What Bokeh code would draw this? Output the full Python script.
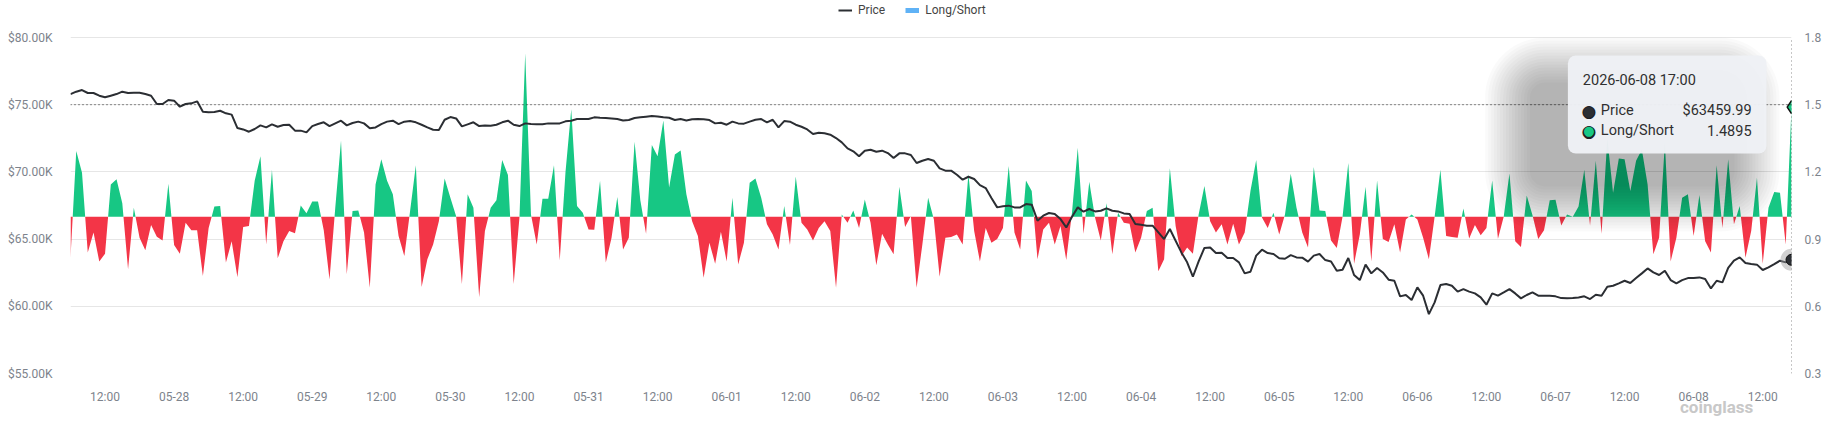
import pandas as pd
from bokeh.plotting import figure
from bokeh.models import (Range1d, LinearAxis, DatetimeAxis, FixedTicker,
                          CustomJSTickFormatter, Span, BoxAnnotation, Label, Legend,
                          LegendItem)
from bokeh.embed import file_html
from bokeh.resources import INLINE

# ---------------- data (hourly, 2026-05-27 06:00 .. 2026-06-08 17:00) ----------------
START = "2026-05-27 06:00"

long_short = [
    0.817, 1.293, 1.196, 0.84, 0.93, 0.80, 0.835, 1.144, 1.167, 1.06,
    0.765, 1.04, 0.906, 0.85, 0.963, 0.91, 0.894, 1.147, 0.874, 0.835,
    0.973, 0.94, 0.94, 0.735, 0.95, 1.045, 1.048, 0.795, 0.89, 0.73,
    0.954, 0.958, 1.16, 1.27, 0.876, 1.21, 0.814, 0.89, 0.936, 0.926,
    1.05, 1.015, 1.068, 1.068, 0.94, 0.72, 1.04, 1.34, 0.743, 1.025,
    1.028, 0.93, 0.683, 1.144, 1.256, 1.16, 1.10, 0.914, 0.824, 1.025,
    1.23, 0.686, 0.81, 0.876, 0.98, 1.17, 1.085, 1.002, 0.70, 1.10,
    1.04, 0.64, 0.936, 1.04, 1.073, 1.253, 1.186, 0.70, 0.996, 1.73,
    1.01, 0.876, 1.08, 1.08, 1.23, 0.805, 1.20, 1.48, 1.048, 1.018,
    0.943, 0.942, 1.16, 0.795, 0.906, 1.088, 0.854, 0.906, 1.335, 1.073,
    0.924, 1.32, 1.27, 1.43, 1.13, 1.278, 1.296, 1.10, 0.98, 0.914,
    0.728, 0.884, 0.79, 0.933, 0.80, 1.085, 0.787, 0.884, 1.152, 1.17,
    1.085, 0.966, 0.92, 0.854, 1.048, 0.874, 1.18, 0.973, 0.943, 0.894,
    0.95, 0.98, 0.936, 0.683, 1.01, 0.973, 1.028, 0.95, 1.077, 0.973,
    0.783, 0.924, 0.876, 0.832, 1.134, 0.954, 1.003, 0.683, 0.876, 1.085,
    0.988, 0.732, 0.906, 0.909, 0.92, 0.876, 1.19, 0.936, 0.80, 0.95,
    0.884, 0.90, 0.95, 1.226, 0.93, 0.854, 1.162, 1.115, 0.81, 0.943,
    0.973, 0.876, 0.958, 0.807, 1.02, 1.308, 0.924, 1.156, 0.996, 0.894,
    1.06, 0.832, 1.018, 0.973, 0.969, 0.84, 0.906, 1.025, 1.04, 0.757,
    0.81, 1.216, 0.958, 0.824, 0.862, 0.835, 1.01, 1.137, 0.98, 0.93,
    0.966, 0.876, 0.969, 0.876, 0.93, 1.115, 1.253, 0.996, 0.95, 1.018,
    0.92, 1.01, 1.192, 1.04, 0.93, 0.862, 1.222, 1.028, 1.025, 0.894,
    0.86, 1.0, 1.24, 0.79, 0.92, 1.134, 0.80, 1.162, 0.90, 0.887,
    0.966, 0.84, 0.988, 1.01, 0.988, 0.906, 0.81, 1.0, 1.21, 0.914,
    0.909, 0.906, 1.037, 0.903, 0.963, 0.917, 0.95, 1.162, 0.902, 1.0,
    1.193, 0.89, 0.865, 1.095, 1.007, 0.90, 0.94, 1.073, 1.076, 0.961,
    1.01, 1.0, 1.045, 1.21, 0.961, 1.25, 0.924, 1.35, 1.107, 1.26,
    1.256, 1.115, 1.25, 1.30, 1.144, 0.832, 0.906, 1.33, 0.80, 0.906,
    1.085, 1.10, 0.914, 1.097, 0.89, 0.84, 1.23, 0.95, 1.256, 0.966,
    1.048, 0.817, 0.936, 1.174, 0.79, 1.04, 1.11, 1.107, 0.876, 1.4895,
]

price_k = [
    75.79, 75.97, 76.09, 75.87, 75.87, 75.67, 75.55, 75.67, 75.79, 75.97,
    75.87, 75.89, 75.89, 75.79, 75.67, 75.05, 75.05, 75.35, 75.30, 74.85,
    75.05, 75.10, 75.25, 74.48, 74.43, 74.45, 74.55, 74.36, 74.26, 73.26,
    73.16, 72.99, 73.19, 73.46, 73.31, 73.54, 73.36, 73.49, 73.51, 73.07,
    73.07, 72.94, 73.41, 73.56, 73.69, 73.41, 73.61, 73.81, 73.46, 73.64,
    73.74, 73.61, 73.24, 73.31, 73.56, 73.74, 73.81, 73.56, 73.74, 73.78,
    73.69, 73.51, 73.31, 73.14, 73.12, 73.88, 74.08, 73.98, 73.39, 73.54,
    73.69, 73.41, 73.46, 73.44, 73.51, 73.69, 73.81, 73.51, 73.41, 73.61,
    73.56, 73.54, 73.54, 73.61, 73.61, 73.61, 73.76, 73.81, 73.93, 73.93,
    73.93, 74.06, 74.03, 74.01, 73.98, 73.93, 73.83, 73.86, 74.01, 74.06,
    74.11, 74.16, 74.13, 74.06, 74.03, 73.86, 73.93, 73.83, 73.91, 73.93,
    73.91, 73.86, 73.61, 73.66, 73.51, 73.74, 73.61, 73.59, 73.74, 73.88,
    73.93, 73.69, 73.88, 73.31, 73.78, 73.74, 73.51, 73.36, 73.16, 72.82,
    72.92, 72.87, 72.77, 72.52, 72.20, 71.75, 71.53, 71.16, 71.58, 71.65,
    71.50, 71.58, 71.40, 71.03, 71.38, 71.38, 71.26, 70.66, 70.83, 70.96,
    70.83, 70.26, 70.09, 70.09, 69.79, 69.42, 69.64, 69.47, 69.02, 68.80,
    68.06, 67.36, 67.44, 67.49, 67.36, 67.36, 67.61, 67.56, 66.37, 66.74,
    66.94, 66.87, 66.49, 65.87, 66.67, 67.36, 67.04, 67.24, 67.06, 67.11,
    67.29, 67.11, 67.06, 66.91, 66.87, 66.12, 66.07, 66.00, 66.00, 65.50,
    65.00, 65.75, 64.88, 64.01, 63.27, 62.20, 63.34, 64.34, 64.38, 63.96,
    63.99, 63.59, 63.59, 63.27, 62.45, 62.57, 63.77, 64.21, 63.96, 63.89,
    63.57, 63.54, 63.81, 63.64, 63.62, 63.32, 63.77, 63.89, 63.44, 63.34,
    62.65, 62.72, 63.59, 62.33, 61.95, 63.10, 62.45, 62.85, 62.52, 61.98,
    61.90, 60.74, 60.84, 60.47, 61.41, 60.79, 59.42, 60.29, 61.58, 61.66,
    61.53, 61.09, 61.28, 61.09, 60.96, 60.66, 60.12, 60.96, 60.79, 61.03,
    61.28, 60.96, 60.59, 60.84, 61.03, 60.79, 60.79, 60.79, 60.74, 60.61,
    60.59, 60.61, 60.66, 60.74, 60.54, 60.86, 60.79, 61.46, 61.53, 61.71,
    61.90, 61.73, 62.10, 62.45, 62.82, 62.52, 62.33, 62.65, 61.95, 61.71,
    61.95, 62.10, 62.10, 62.15, 62.03, 61.33, 61.90, 61.78, 62.85, 63.39,
    63.64, 63.22, 63.14, 63.10, 62.70, 62.90, 63.14, 63.39, 63.27, 63.45999,
]

price_ticks = [55000, 60000, 65000, 70000, 75000, 80000]
ratio_ticks = [0.3, 0.6, 0.9, 1.2, 1.5, 1.8]
BASE = 1.0

price = [v * 1000 for v in price_k]
times = pd.date_range(START, periods=len(price), freq="h")
x_ms = [float(v) for v in (times.asi8 // 10**6)]
x_ticks = [x_ms[i] for i, t in enumerate(times) if t.hour in (0, 12)]

GREEN = "#17c784"
RED = "#f33547"
DARK = "#2b2e33"
TICK_COL = "#7d838c"

# ---------------- layout (pixels) ----------------
W, H = 1824, 419
FL, FW = 70, 1724          # frame left / width
GT, GH = 37, 336           # top of the value grid (80K / 1.8) and grid height
FB = GT + GH               # frame bottom (55K / 0.3)
# the frame reaches the top of the canvas so the legend can sit inside it
p_span = price_ticks[-1] - price_ticks[0]
r_span = ratio_ticks[-1] - ratio_ticks[0]
p_top = price_ticks[-1] + GT / GH * p_span
r_top = ratio_ticks[-1] + GT / GH * r_span

p = figure(width=W, height=H, x_axis_type="datetime",
           output_backend="svg", toolbar_location=None,
           x_range=Range1d(x_ms[0], x_ms[-1]),
           y_range=Range1d(price_ticks[0], p_top),
           min_border_left=FL, min_border_right=W - FL - FW,
           min_border_top=0, min_border_bottom=H - FB,
           outline_line_color=None, background_fill_color="white",
           border_fill_color="white")
p.extra_y_ranges = {"ls": Range1d(ratio_ticks[0], r_top)}

def style_axis(ax, standoff, size="12px", color=TICK_COL, weight="normal"):
    ax.axis_line_color = None
    ax.major_tick_line_color = None
    ax.minor_tick_line_color = None
    ax.major_tick_out = 0
    ax.major_tick_in = 0
    ax.minor_tick_out = 0
    ax.major_label_text_font = "Roboto"
    ax.major_label_text_font_size = size
    ax.major_label_text_color = color
    ax.major_label_text_font_style = weight
    ax.major_label_standoff = standoff

def DX(px):
    return x_ms[0] + (px - FL) / FW * (x_ms[-1] - x_ms[0])

def DY(py):
    return price_ticks[-1] - (py - GT) / GH * p_span

xax = p.xaxis[0]
xax.ticker = FixedTicker(ticks=x_ticks)
xax.formatter = CustomJSTickFormatter(code="""
    const d = new Date(tick);
    if (d.getUTCHours() === 12) { return "12:00"; }
    const m = String(d.getUTCMonth() + 1).padStart(2, "0");
    const dd = String(d.getUTCDate()).padStart(2, "0");
    return m + "-" + dd;
""")
style_axis(xax, 16)

yax = p.yaxis[0]
yax.ticker = FixedTicker(ticks=price_ticks)
yax.formatter = CustomJSTickFormatter(code='return "$" + (tick / 1000).toFixed(2) + "K";')
style_axis(yax, 18)

rax = LinearAxis(y_range_name="ls", ticker=FixedTicker(ticks=ratio_ticks),
                 formatter=CustomJSTickFormatter(code="return tick.toFixed(1);"))
style_axis(rax, 13)
p.add_layout(rax, "right")

p.xgrid.visible = False
p.ygrid.grid_line_color = "#e6e6e6"
p.ygrid.grid_line_width = 1

# ---------------- long/short area split at 1.0 ----------------
def split_at(xv, yv, base):
    gx, gy, ry = [], [], []
    for i in range(len(yv)):
        if i > 0 and (yv[i - 1] - base) * (yv[i] - base) < 0:
            f = (base - yv[i - 1]) / (yv[i] - yv[i - 1])
            xc = xv[i - 1] + f * (xv[i] - xv[i - 1])
            gx.append(xc); gy.append(base); ry.append(base)
        gx.append(xv[i]); gy.append(max(yv[i], base)); ry.append(min(yv[i], base))
    return gx, gy, ry

ax_, up_, dn_ = split_at(x_ms, long_short, BASE)
p.varea(x=ax_, y1=[BASE] * len(ax_), y2=up_, fill_color=GREEN, y_range_name="ls")
p.varea(x=ax_, y1=dn_, y2=[BASE] * len(ax_), fill_color=RED, y_range_name="ls")

r_price = p.line(x_ms, price, line_color=DARK, line_width=2)
# legend swatch for the Long/Short series (no visible geometry)
nan = float("nan")
r_ls_icon = p.line(x=x_ms[:2], y=[nan, nan], line_color="#5fb2f6", line_width=5,
                   y_range_name="ls")

# ---------------- crosshair at the last point ----------------
p.segment(x0=[x_ms[-1]], y0=[ratio_ticks[0]], x1=[x_ms[-1]], y1=[ratio_ticks[-1]],
          y_range_name="ls", line_color="#222", line_width=1, line_dash="1 3")
p.add_layout(Span(location=round(long_short[-1], 1), dimension="width",
                  y_range_name="ls", line_color="#222", line_width=1, line_dash="1 3"))

p.scatter([x_ms[-1]], [price[-1]], size=22, fill_color="#9a9a9a", fill_alpha=0.45,
          line_color=None)
p.scatter([x_ms[-1]], [price[-1]], size=11, fill_color=DARK, line_color="#111",
          line_width=1)
p.scatter([x_ms[-1]], [long_short[-1]], marker="diamond", size=13, fill_color=GREEN,
          line_color="#111", line_width=1.5, y_range_name="ls")

# ---------------- legend (top centre) ----------------
legend = Legend(items=[LegendItem(label="Price", renderers=[r_price]),
                       LegendItem(label="Long/Short", renderers=[r_ls_icon])],
                location=(838 - FL, FB - 17), orientation="horizontal",
                glyph_width=14, glyph_height=12, label_height=12, label_width=10,
                label_standoff=6, spacing=20, padding=0, margin=0,
                border_line_color=None, background_fill_alpha=0,
                label_text_font="Roboto", label_text_font_size="12px",
                label_text_color="#444")
p.add_layout(legend)

# ---------------- tooltip (positions in reference pixels) ----------------
TL, TR, TT, TB = 1570, 1769, 55, 153
for k in range(16, 0, -1):
    e = 3 * k
    p.add_layout(BoxAnnotation(left=DX(TL - 35 - e), right=DX(TR - 35 + e),
                               top=DY(TT + 30 - e), bottom=DY(TB + 30 + e),
                               fill_color="black", fill_alpha=0.018,
                               line_alpha=0, border_radius=12 + e))
p.add_layout(BoxAnnotation(left=DX(TL), right=DX(TR), top=DY(TT), bottom=DY(TB),
                           fill_color="#eef1f5", fill_alpha=0.97, line_alpha=0,
                           border_radius=8))

def lab(px, py, text, size="14.5px", color="#303030", align="left", font="Roboto"):
    p.add_layout(Label(x=DX(px), y=DY(py), text=text, text_font=font,
                       text_font_size=size, text_color=color, text_align=align,
                       text_baseline="middle"))

lab(1585, 80, times[-1].strftime("%Y-%m-%d %H:%M"))
lab(1591, 110, "\u25cf", size="17px", color="#1e2024", align="center", font="DejaVu Sans")
lab(1591, 110, "\u25cf", size="14px", color=DARK, align="center", font="DejaVu Sans")
lab(1591, 130, "\u25cf", size="17px", color="#1e2024", align="center", font="DejaVu Sans")
lab(1591, 130, "\u25cf", size="13px", color=GREEN, align="center", font="DejaVu Sans")
lab(1603, 110, "Price")
lab(1603, 130, "Long/Short")
lab(1754, 110, "${:.2f}".format(price[-1]), align="right")
lab(1754, 130, "{:.4f}".format(long_short[-1]), align="right")

# ---------------- watermark below the time axis ----------------
wm = DatetimeAxis(ticker=FixedTicker(ticks=[DX(1719)]),
                  formatter=CustomJSTickFormatter(code='return "coinglass";'))
style_axis(wm, -10, size="17px", color="#c8c8c8", weight="bold")
p.add_layout(wm, "below")

open("out.html", "w").write(file_html(p, INLINE))
